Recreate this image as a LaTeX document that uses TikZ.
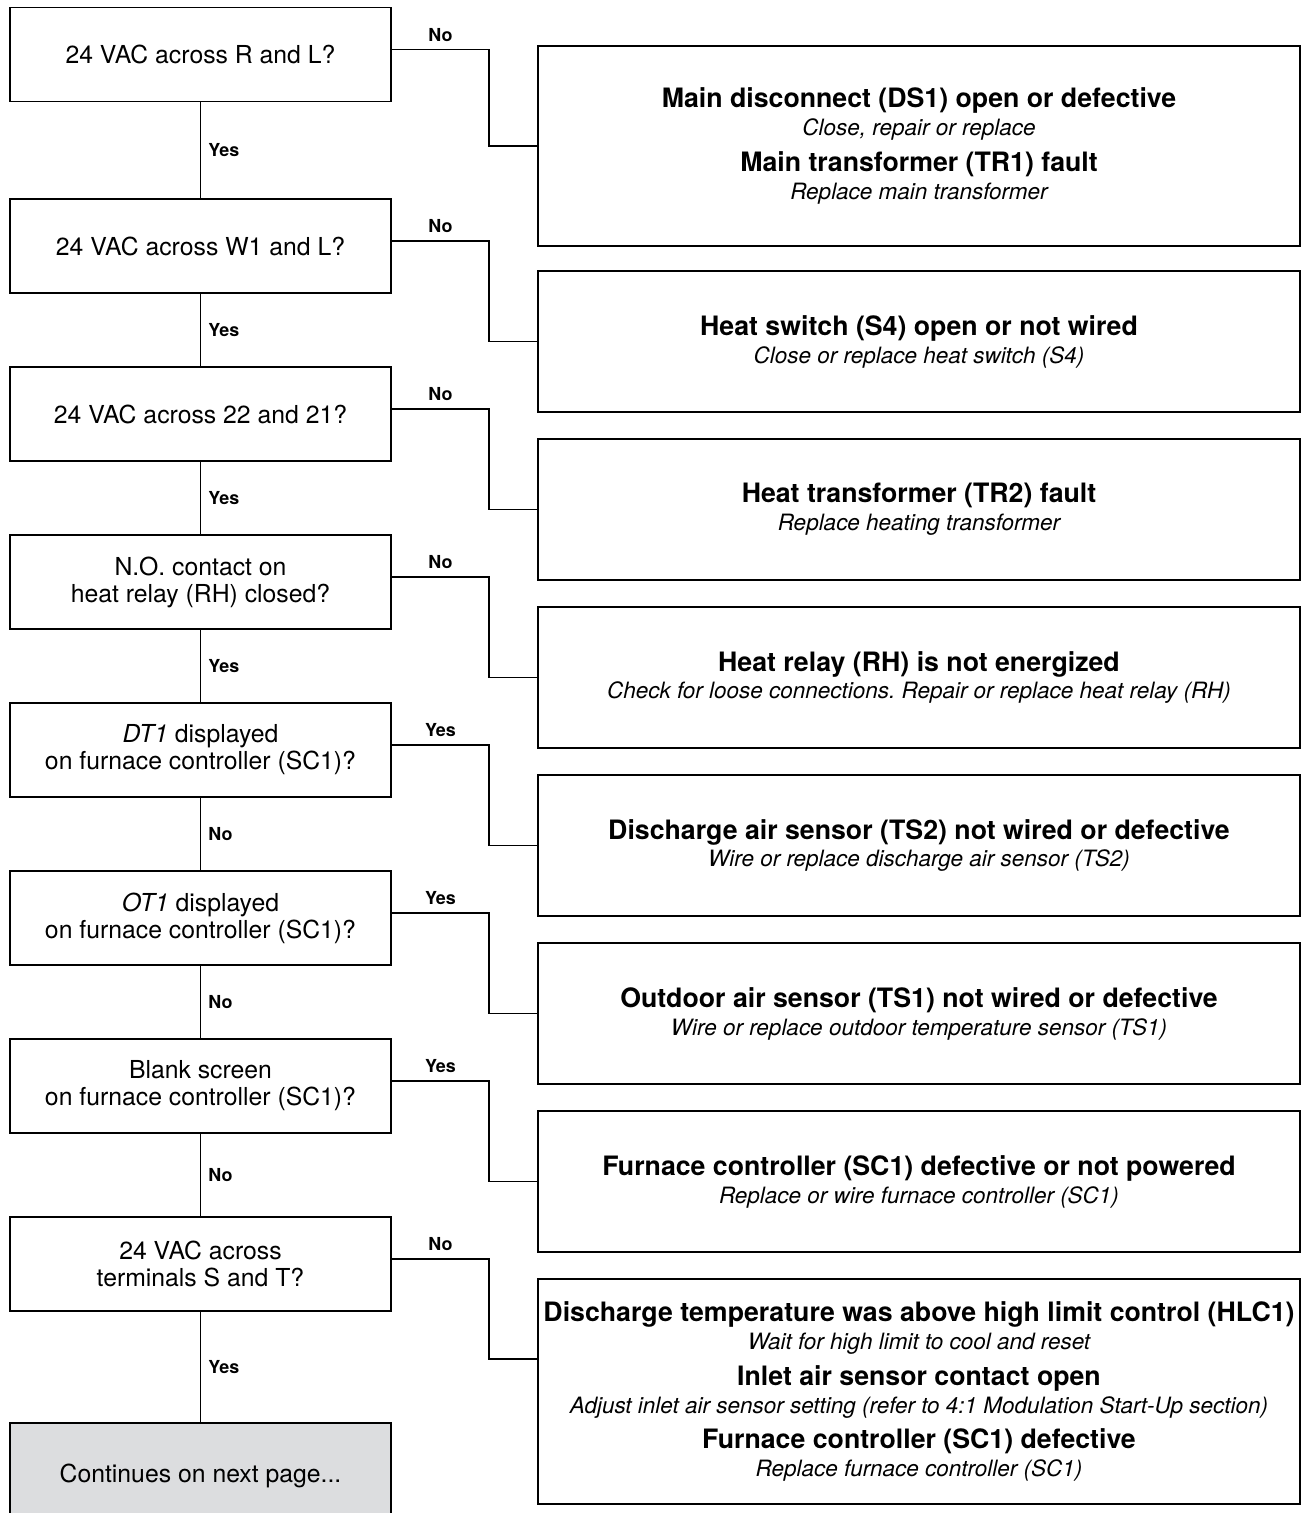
\documentclass[tikz,border=0pt]{standalone}
\usepackage{fontspec}
\setmainfont{TeX Gyre Heros}
\frenchspacing

\definecolor{boxgray}{RGB}{220,221,223}

\newcommand{\qfont}{\fontsize{14.1}{15.4}\selectfont}
\newcommand{\hfont}{\fontsize{15.2}{15.9}\selectfont\bfseries\upshape}
\newcommand{\sfont}{\fontsize{12.8}{15.9}\selectfont\mdseries\itshape}
\newcommand{\lfont}{\fontsize{10.2}{12}\selectfont\bfseries}

\tikzset{
  question/.style={draw, line width=1.1pt, minimum width=7.62cm, minimum height=1.88cm,
    align=center, font=\qfont, inner sep=0pt},
  answer/.style={draw, line width=1.1pt, minimum width=15.24cm, align=center,
    font=\sfont, inner sep=0pt},
  link/.style={line width=1.1pt},
  lbl/.style={font=\lfont, inner sep=4pt},
}

\begin{document}
\begin{tikzpicture}[x=0.02cm, y=-0.02cm]

        % Page frame
        \useasboundingbox (0,0) rectangle (1302,1513);
        \clip (0,0) rectangle (1302,1513);

        % Questions, left column
        \node[question] (q1) at (200.5,54.5) {24 VAC across R and L?};
        \node[question] (q2) at (200.5,246) {24 VAC across W1 and L?};
        \node[question] (q3) at (200.5,414) {24 VAC across 22 and 21?};
        \node[question] (q4) at (200.5,582) {N.O. contact on\\heat relay (RH) closed?};
        \node[question] (q5) at (200.5,750) {\textit{DT1} displayed\\on furnace controller (SC1)?};
        \node[question] (q6) at (200.5,918) {\textit{OT1} displayed\\on furnace controller (SC1)?};
        \node[question] (q7) at (200.5,1086) {Blank screen\\on furnace controller (SC1)?};
        \node[question] (q8) at (200.5,1264) {24 VAC across\\terminals S and T?};
        \node[question, fill=boxgray, minimum height=2.12cm] (q9) at (200.5,1476) {Continues on next page...};

        % Faults and fixes, right column
        \node[answer, minimum height=4cm] (a1) at (919,146) {%
          {\hfont Main disconnect (DS1) open or defective}\\
          {\sfont Close, repair or replace}\\[4.5pt]
          {\hfont Main transformer (TR1) fault}\\
          {\sfont Replace main transformer}};
        \node[answer, minimum height=2.82cm] (a2) at (919,341.5) {%
          {\hfont Heat switch (S4) open or not wired}\\
          {\sfont Close or replace heat switch (S4)}};
        \node[answer, minimum height=2.82cm] (a3) at (919,509.5) {%
          {\hfont Heat transformer (TR2) fault}\\
          {\sfont Replace heating transformer}};
        \node[answer, minimum height=2.82cm] (a4) at (919,677.5) {%
          {\hfont Heat relay (RH) is not energized}\\
          {\sfont Check for loose connections. Repair or replace heat relay (RH)}};
        \node[answer, minimum height=2.82cm] (a5) at (919,845.5) {%
          {\hfont Discharge air sensor (TS2) not wired or defective}\\
          {\sfont Wire or replace discharge air sensor (TS2)}};
        \node[answer, minimum height=2.82cm] (a6) at (919,1013.5) {%
          {\hfont Outdoor air sensor (TS1) not wired or defective}\\
          {\sfont Wire or replace outdoor temperature sensor (TS1)}};
        \node[answer, minimum height=2.82cm] (a7) at (919,1181.5) {%
          {\hfont Furnace controller (SC1) defective or not powered}\\
          {\sfont Replace or wire furnace controller (SC1)}};
        \node[answer, minimum height=4.5cm] (a8) at (919,1391.5) {%
          {\hfont Discharge temperature was above high limit control (HLC1)}\\
          {\sfont Wait for high limit to cool and reset}\\[4.5pt]
          {\hfont Inlet air sensor contact open}\\
          {\sfont Adjust inlet air sensor setting (refer to 4:1 Modulation Start-Up section)}\\[4.5pt]
          {\hfont Furnace controller (SC1) defective}\\
          {\sfont Replace furnace controller (SC1)}};

        % Down the left column
        \draw[link] (q1) -- node[lbl, right] {Yes} (q2);
        \draw[link] (q2) -- node[lbl, right] {Yes} (q3);
        \draw[link] (q3) -- node[lbl, right] {Yes} (q4);
        \draw[link] (q4) -- node[lbl, right] {Yes} (q5);
        \draw[link] (q5) -- node[lbl, right] {No} (q6);
        \draw[link] (q6) -- node[lbl, right] {No} (q7);
        \draw[link] (q7) -- node[lbl, right] {No} (q8);
        \draw[link] (q8) -- node[lbl, right] {Yes} (q9);

        % Across to the right column
        \draw[link] ([yshift=0.1cm]q1.east) -- node[lbl, above] {No} ++(97,0) |- (a1.west);
        \draw[link] ([yshift=0.1cm]q2.east) -- node[lbl, above] {No} ++(97,0) |- (a2.west);
        \draw[link] ([yshift=0.1cm]q3.east) -- node[lbl, above] {No} ++(97,0) |- (a3.west);
        \draw[link] ([yshift=0.1cm]q4.east) -- node[lbl, above] {No} ++(97,0) |- (a4.west);
        \draw[link] ([yshift=0.1cm]q5.east) -- node[lbl, above] {Yes} ++(97,0) |- (a5.west);
        \draw[link] ([yshift=0.1cm]q6.east) -- node[lbl, above] {Yes} ++(97,0) |- (a6.west);
        \draw[link] ([yshift=0.1cm]q7.east) -- node[lbl, above] {Yes} ++(97,0) |- (a7.west);
        \draw[link] ([yshift=0.1cm]q8.east) -- node[lbl, above] {No} ++(97,0) |- ([yshift=0.65cm]a8.west);

    \end{tikzpicture}
\end{document}
